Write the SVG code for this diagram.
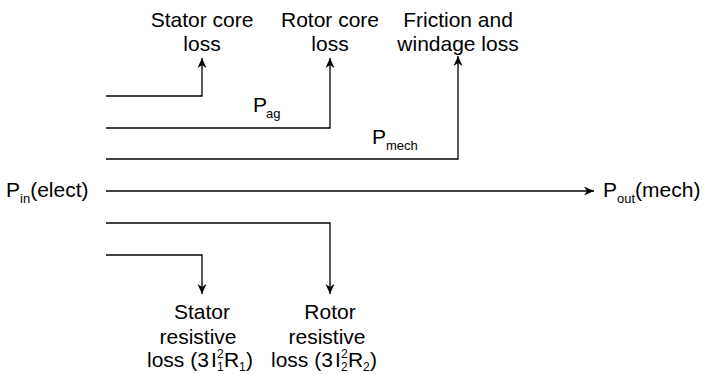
<svg xmlns="http://www.w3.org/2000/svg" width="704" height="374" viewBox="0 0 704 374">
<style>
  .t { font-family: "Liberation Sans", Arial, Helvetica, sans-serif; font-size: 21px; fill: #000; }
  .c { text-anchor: middle; }
  .s { font-size: 13px; }
  .xs { font-size: 12px; }
  .ln { fill: none; stroke: #000; stroke-width: 1.3; }
</style>
<defs>
  <marker id="arr" viewBox="0 0 10 10" refX="10" refY="5" markerWidth="10" markerHeight="10" markerUnits="userSpaceOnUse" orient="auto">
    <path d="M0,0.5 L10,5 L0,9.5 L3,5 z" fill="#000"/>
  </marker>
</defs>
<rect width="704" height="374" fill="#fff"/>
<g id="connectors">
  <path class="ln" d="M106,96 H202 V58" marker-end="url(#arr)"/>
  <path class="ln" d="M106,128 H330 V58" marker-end="url(#arr)"/>
  <path class="ln" d="M106,159 H458 V56" marker-end="url(#arr)"/>
  <path class="ln" d="M106,191 H594" marker-end="url(#arr)"/>
  <path class="ln" d="M106,223 H330 V294" marker-end="url(#arr)"/>
  <path class="ln" d="M106,255 H202 V294" marker-end="url(#arr)"/>
</g>
<g id="stator-core-loss">
  <text class="t c" x="202" y="27">Stator core</text>
  <text class="t c" x="202" y="51">loss</text>
</g>
<g id="rotor-core-loss">
  <text class="t c" x="330" y="27">Rotor core</text>
  <text class="t c" x="330" y="51">loss</text>
</g>
<g id="friction-windage-loss">
  <text class="t c" x="458" y="27">Friction and</text>
  <text class="t c" x="458" y="51">windage loss</text>
</g>
<g id="p-ag">
  <text class="t" x="253" y="112">P</text>
  <text class="t s" x="266" y="118">ag</text>
</g>
<g id="p-mech">
  <text class="t" x="372" y="144">P</text>
  <text class="t s" x="386" y="150">mech</text>
</g>
<g id="p-in">
  <text class="t" x="6" y="197">P<tspan class="s" dy="6">in</tspan><tspan dy="-6">(elect)</tspan></text>
</g>
<g id="p-out">
  <text class="t" x="603" y="197">P<tspan class="s" dy="6">out</tspan><tspan dy="-6">(mech)</tspan></text>
</g>
<g id="stator-resistive-loss">
  <text class="t c" x="202" y="319">Stator</text>
  <text class="t c" x="198" y="344">resistive</text>
  <text class="t" x="147" y="367">loss (3</text>
  <text class="t" x="211" y="367">I</text>
  <text class="t xs" x="217" y="358">2</text>
  <text class="t xs" x="217" y="371">1</text>
  <text class="t" x="224" y="367">R</text>
  <text class="t xs" x="239" y="371">1</text>
  <text class="t" x="246" y="367">)</text>
</g>
<g id="rotor-resistive-loss">
  <text class="t c" x="330" y="319">Rotor</text>
  <text class="t c" x="327" y="344">resistive</text>
  <text class="t" x="271" y="367">loss (3</text>
  <text class="t" x="335" y="367">I</text>
  <text class="t xs" x="341" y="358">2</text>
  <text class="t xs" x="341" y="371">2</text>
  <text class="t" x="348" y="367">R</text>
  <text class="t xs" x="363" y="371">2</text>
  <text class="t" x="370" y="367">)</text>
</g>
</svg>
